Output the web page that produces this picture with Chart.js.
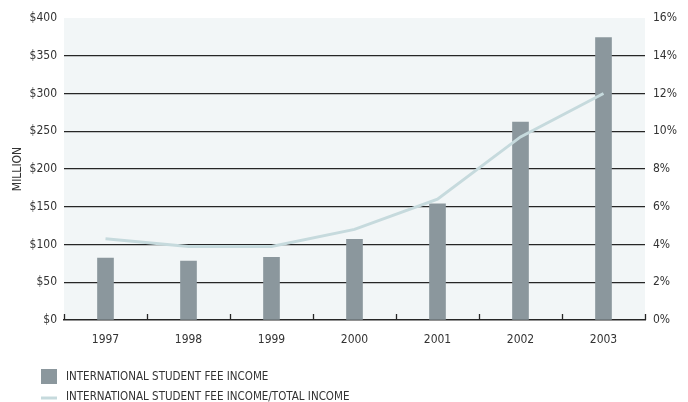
<!DOCTYPE html>
<html>
<head>
<meta charset="utf-8">
<script src="https://cdn.jsdelivr.net/npm/chart.js@4/dist/chart.umd.min.js"></script>
<style>
  html, body { margin: 0; padding: 0; background: #ffffff; }
  #wrap { width: 688px; height: 402px; position: relative; }
</style>
</head>
<body>
<div id="wrap"><canvas id="chart" width="688" height="402"></canvas></div>
<script>
// Fee income by year ($ million) and its share of total income (%)
const years = ['1997', '1998', '1999', '2000', '2001', '2002', '2003'];
const feeIncome = [82, 78, 83, 107, 154, 262, 374];
const feeShare = [4.3, 3.9, 3.9, 4.8, 6.4, 9.7, 12.0];
const moneyTicks = ['$0', '$50', '$100', '$150', '$200', '$250', '$300', '$350', '$400'];
const shareTicks = ['0%', '2%', '4%', '6%', '8%', '10%', '12%', '14%', '16%'];
const seriesNames = ['INTERNATIONAL STUDENT FEE INCOME', 'INTERNATIONAL STUDENT FEE INCOME/TOTAL INCOME'];

const BAR_COLOR = '#8b979d';
const LINE_COLOR = '#c6dadd';
const TEXT_COLOR = '#333333';
const RULE_COLOR = '#262626';
const FONT = '"DejaVu Sans Condensed", "DejaVu Sans", sans-serif';

// Pale panel behind the plot
const panelFill = {
  id: 'panelFill',
  beforeDraw(chart) {
    const { ctx, chartArea: a } = chart;
    ctx.save();
    ctx.fillStyle = '#f2f6f7';
    ctx.fillRect(a.left, a.top, a.right - a.left, a.bottom - a.top);
    ctx.restore();
  }
};

// Short upward tick marks on the base line, at each category boundary
const baseTicks = {
  id: 'baseTicks',
  afterDatasetsDraw(chart) {
    const { ctx } = chart;
    const x = chart.scales.x;
    const y0 = chart.chartArea.bottom;
    ctx.save();
    ctx.strokeStyle = RULE_COLOR;
    ctx.lineWidth = 1.3;
    for (let i = 0; i <= years.length; i++) {
      const px = Math.round(x.getPixelForValue(i - 0.5)) + 0.5;
      ctx.beginPath();
      ctx.moveTo(px, y0);
      ctx.lineTo(px, y0 - 6);
      ctx.stroke();
    }
    ctx.restore();
  }
};

// Two-row key below the chart
const keyBlock = {
  id: 'keyBlock',
  afterDraw(chart) {
    const { ctx } = chart;
    ctx.save();
    ctx.font = '11.5px ' + FONT;
    ctx.textBaseline = 'middle';
    ctx.textAlign = 'left';
    // bar swatch
    ctx.fillStyle = BAR_COLOR;
    ctx.fillRect(41, 369, 16, 15);
    ctx.fillStyle = TEXT_COLOR;
    ctx.fillText(chart.data.datasets[1].label, 66, 377);
    // line swatch
    ctx.strokeStyle = LINE_COLOR;
    ctx.lineWidth = 3;
    ctx.beginPath();
    ctx.moveTo(41, 398);
    ctx.lineTo(57, 398);
    ctx.stroke();
    ctx.fillText(chart.data.datasets[0].label, 66, 397);
    ctx.restore();
  }
};

new Chart(document.getElementById('chart'), {
  type: 'bar',
  data: {
    labels: years,
    datasets: [
      {
        type: 'line',
        label: seriesNames[1],
        data: feeShare,
        yAxisID: 'y1',
        borderColor: LINE_COLOR,
        borderWidth: 3,
        pointRadius: 0,
        tension: 0,
        fill: false,
        order: 0
      },
      {
        type: 'bar',
        label: seriesNames[0],
        data: feeIncome,
        yAxisID: 'y',
        backgroundColor: BAR_COLOR,
        barThickness: 16,
        order: 1
      }
    ]
  },
  options: {
    responsive: false,
    animation: false,
    layout: { padding: { top: 18, left: 0, right: 0, bottom: 0 } },
    plugins: {
      legend: { display: false },
      tooltip: { enabled: false }
    },
    scales: {
      x: {
        offset: true,
        grid: { display: false, drawTicks: false },
        border: { display: true, color: RULE_COLOR, width: 1.5 },
        ticks: { color: TEXT_COLOR, font: { family: FONT, size: 12 }, padding: 13 },
        afterFit(s) { s.height = 82; }
      },
      y: {
        position: 'left',
        min: 0,
        max: 400,
        ticks: {
          stepSize: 50,
          color: TEXT_COLOR,
          font: { family: FONT, size: 12 },
          padding: 7,
          callback: (v) => moneyTicks[v / 50]
        },
        grid: {
          drawTicks: false,
          lineWidth: 1.2,
          color: (c) => (c.tick && (c.tick.value === 400 || c.tick.value === 0)) ? 'rgba(0,0,0,0)' : RULE_COLOR
        },
        border: { display: false },
        title: {
          display: true,
          text: 'MILLION',
          color: TEXT_COLOR,
          font: { family: FONT, size: 12 },
          padding: { top: 11, bottom: 0 }
        },
        afterFit(s) { s.width = 64; }
      },
      y1: {
        position: 'right',
        min: 0,
        max: 16,
        ticks: {
          stepSize: 2,
          color: TEXT_COLOR,
          font: { family: FONT, size: 12 },
          padding: 8,
          callback: (v) => shareTicks[v / 2]
        },
        grid: { display: false, drawTicks: false },
        border: { display: false },
        afterFit(s) { s.width = 43; }
      }
    }
  },
  plugins: [panelFill, baseTicks, keyBlock]
});
</script>
</body>
</html>
